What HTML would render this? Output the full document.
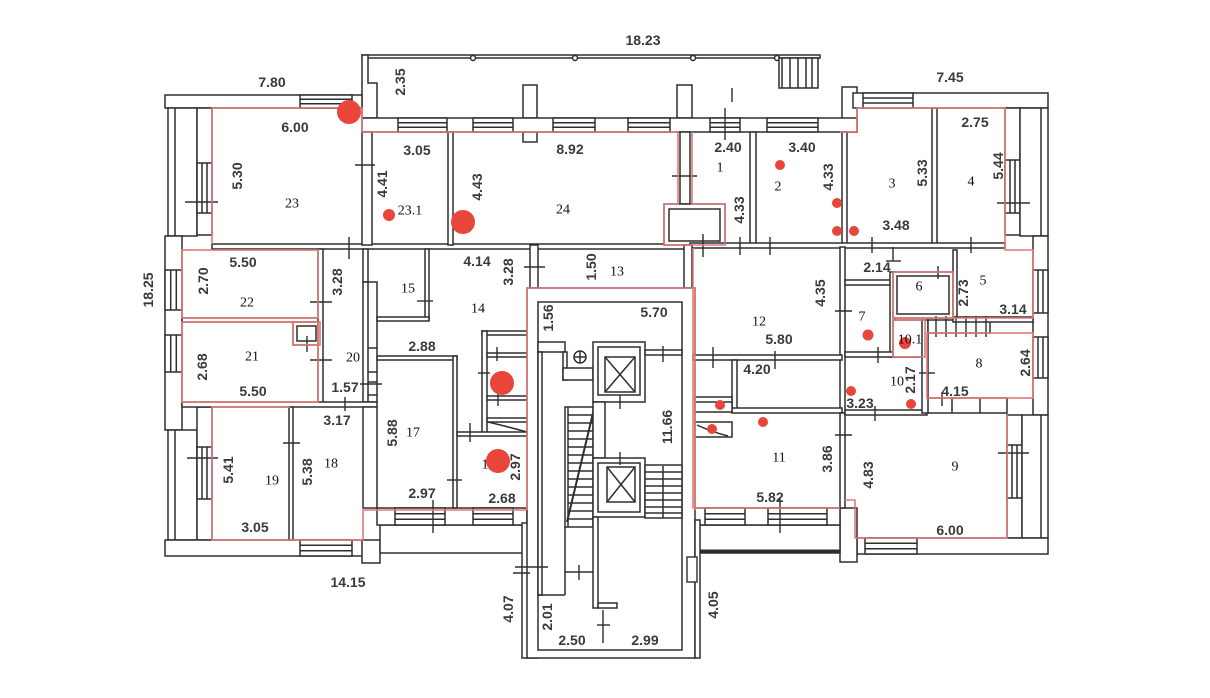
<!DOCTYPE html>
<html><head><meta charset="utf-8"><style>
html,body{margin:0;padding:0;background:#fff;}
svg{display:block;}
.d{font-family:"Liberation Sans",sans-serif;font-weight:bold;font-size:14px;fill:#3a3a3a;text-anchor:middle;dominant-baseline:central;}
.n{font-family:"Liberation Serif",serif;font-size:14px;fill:#111;text-anchor:middle;dominant-baseline:central;}
</style></head><body>
<svg width="1210" height="698" viewBox="0 0 1210 698" xmlns="http://www.w3.org/2000/svg">
<rect width="1210" height="698" fill="#fff"/>
<g fill="#fff" stroke="#2e2e2e" stroke-width="1.5">
<!-- porch -->
<rect x="362" y="55" width="458" height="3"/>
<circle cx="473" cy="58" r="2.5"/><circle cx="575" cy="58" r="2.5"/><circle cx="693" cy="58" r="2.5"/><circle cx="777" cy="58" r="2.5"/>
<rect x="779" y="58" width="39" height="30"/>
<line x1="782" y1="58" x2="782" y2="88"/><line x1="790" y1="58" x2="790" y2="88"/><line x1="798" y1="58" x2="798" y2="88"/><line x1="806" y1="58" x2="806" y2="88"/><line x1="812" y1="58" x2="812" y2="88"/>
<polygon points="362,55 368,55 368,83 377,83 377,118 362,118"/>
<rect x="523" y="85" width="14" height="33"/>
<rect x="677" y="85" width="15" height="33"/>
<rect x="842" y="87" width="15" height="45"/>
<rect x="523" y="132" width="14" height="10"/>
<rect x="362" y="118" width="495" height="14"/>
<rect x="398" y="118" width="49" height="14"/><line x1="398" y1="122.7" x2="447" y2="122.7"/><line x1="398" y1="127.3" x2="447" y2="127.3"/>
<rect x="473" y="118" width="40" height="14"/><line x1="473" y1="122.7" x2="513" y2="122.7"/><line x1="473" y1="127.3" x2="513" y2="127.3"/>
<rect x="553" y="118" width="42" height="14"/><line x1="553" y1="122.7" x2="595" y2="122.7"/><line x1="553" y1="127.3" x2="595" y2="127.3"/>
<rect x="628" y="118" width="42" height="14"/><line x1="628" y1="122.7" x2="670" y2="122.7"/><line x1="628" y1="127.3" x2="670" y2="127.3"/>
<rect x="710" y="118" width="30" height="14"/><line x1="710" y1="122.7" x2="740" y2="122.7"/><line x1="710" y1="127.3" x2="740" y2="127.3"/>
<rect x="767" y="118" width="51" height="14"/><line x1="767" y1="122.7" x2="818" y2="122.7"/><line x1="767" y1="127.3" x2="818" y2="127.3"/>

<!-- left wing exterior -->
<rect x="165" y="95" width="197" height="13"/>
<rect x="300" y="95" width="52" height="13"/><line x1="300" y1="99.3" x2="352" y2="99.3"/><line x1="300" y1="103.7" x2="352" y2="103.7"/>
<rect x="168" y="108" width="29" height="128"/><line x1="175" y1="108" x2="175" y2="236"/>
<rect x="197" y="108" width="15" height="127"/>
<rect x="197" y="163" width="15" height="50"/><line x1="202" y1="163" x2="202" y2="213"/><line x1="207" y1="163" x2="207" y2="213"/>
<rect x="165" y="236" width="17" height="194"/>
<rect x="165" y="270" width="17" height="40"/><line x1="170.7" y1="270" x2="170.7" y2="310"/><line x1="176.3" y1="270" x2="176.3" y2="310"/>
<rect x="165" y="335" width="17" height="37"/><line x1="170.7" y1="335" x2="170.7" y2="372"/><line x1="176.3" y1="335" x2="176.3" y2="372"/>
<rect x="168" y="430" width="29" height="110"/><line x1="175" y1="430" x2="175" y2="540"/>
<rect x="197" y="407" width="15" height="133"/>
<rect x="197" y="447" width="15" height="52"/><line x1="202" y1="447" x2="202" y2="499"/><line x1="207" y1="447" x2="207" y2="499"/>
<rect x="165" y="540" width="198" height="16"/>
<rect x="300" y="540" width="52" height="16"/><line x1="300" y1="545.3" x2="352" y2="545.3"/><line x1="300" y1="550.7" x2="352" y2="550.7"/>
<rect x="362" y="540" width="18" height="23"/>
<rect x="380" y="525" width="143" height="28"/>
<rect x="377" y="508" width="150" height="17"/>
<rect x="395" y="508" width="50" height="17"/><line x1="395" y1="513.7" x2="445" y2="513.7"/><line x1="395" y1="519.3" x2="445" y2="519.3"/>
<rect x="473" y="508" width="40" height="17"/><line x1="473" y1="513.7" x2="513" y2="513.7"/><line x1="473" y1="519.3" x2="513" y2="519.3"/>

<!-- row 1 partitions -->
<rect x="212" y="244" width="480" height="5"/>
<rect x="362" y="132" width="10" height="113"/>
<rect x="448" y="132" width="5" height="113"/>
<rect x="680" y="132" width="10" height="72"/>
<rect x="664" y="204" width="61" height="41"/><rect x="669" y="209" width="51" height="32"/>
<rect x="750" y="132" width="6" height="113"/>
<rect x="842" y="132" width="5" height="113"/>
<rect x="932" y="108" width="5" height="137"/>
<rect x="690" y="243" width="315" height="5"/>

<!-- right wing exterior -->
<rect x="853" y="93" width="195" height="15"/>
<rect x="863" y="93" width="50" height="15"/><line x1="863" y1="98" x2="913" y2="98"/><line x1="863" y1="103" x2="913" y2="103"/>
<rect x="1005" y="108" width="15" height="127"/>
<rect x="1005" y="160" width="15" height="53"/><line x1="1010" y1="160" x2="1010" y2="213"/><line x1="1015" y1="160" x2="1015" y2="213"/>
<rect x="1020" y="108" width="28" height="128"/><line x1="1041" y1="108" x2="1041" y2="236"/>
<rect x="1033" y="236" width="15" height="179"/>
<rect x="1033" y="270" width="15" height="43"/><line x1="1038" y1="270" x2="1038" y2="313"/><line x1="1043" y1="270" x2="1043" y2="313"/>
<rect x="1033" y="337" width="15" height="41"/><line x1="1038" y1="337" x2="1038" y2="378"/><line x1="1043" y1="337" x2="1043" y2="378"/>
<rect x="1007" y="415" width="15" height="123"/>
<rect x="1007" y="445" width="15" height="53"/><line x1="1012" y1="445" x2="1012" y2="498"/><line x1="1017" y1="445" x2="1017" y2="498"/>
<rect x="1022" y="415" width="26" height="123"/><line x1="1041" y1="415" x2="1041" y2="538"/>
<rect x="857" y="538" width="191" height="16"/>
<rect x="865" y="538" width="52" height="16"/><line x1="865" y1="543.3" x2="917" y2="543.3"/><line x1="865" y1="548.7" x2="917" y2="548.7"/>
<rect x="840" y="508" width="17" height="54"/>
<rect x="697" y="525" width="143" height="28"/>
<line x1="697" y1="551" x2="840" y2="551" stroke-width="3"/>
<rect x="693" y="508" width="147" height="17"/>
<rect x="705" y="508" width="40" height="17"/><line x1="705" y1="513.7" x2="745" y2="513.7"/><line x1="705" y1="519.3" x2="745" y2="519.3"/>
<rect x="768" y="508" width="59" height="17"/><line x1="768" y1="513.7" x2="827" y2="513.7"/><line x1="768" y1="519.3" x2="827" y2="519.3"/>

<!-- row 2 left -->
<rect x="182" y="318" width="138" height="4"/>
<rect x="293" y="322" width="27" height="23"/><rect x="297" y="326" width="19" height="15"/>
<rect x="318" y="249" width="5" height="154"/>
<rect x="363" y="249" width="5" height="33"/>
<rect x="363" y="282" width="14" height="120"/>
<line x1="368" y1="282" x2="368" y2="402"/>
<line x1="368" y1="348" x2="377" y2="348"/><line x1="368" y1="372" x2="377" y2="372"/><line x1="368" y1="382" x2="377" y2="382"/><line x1="368" y1="395" x2="377" y2="395"/>
<rect x="182" y="402" width="195" height="5"/>
<rect x="425" y="249" width="4" height="71"/>
<rect x="377" y="317" width="52" height="4"/>
<rect x="377" y="356" width="80" height="4"/>
<rect x="453" y="356" width="4" height="152"/>
<rect x="363" y="407" width="14" height="101"/>
<rect x="289" y="407" width="4" height="133"/>
<rect x="482" y="331" width="45" height="4"/>
<rect x="482" y="331" width="5" height="103"/>
<rect x="487" y="353" width="40" height="4"/>
<rect x="487" y="396" width="40" height="4"/>
<rect x="487" y="418" width="40" height="4"/>
<path d="M488,422 Q505,426 527,432" fill="none"/>
<rect x="457" y="432" width="70" height="4"/>
<rect x="530" y="245" width="8" height="43"/>
<rect x="684" y="245" width="8" height="43"/>

<!-- stairwell -->
<rect x="522" y="523" width="16" height="135"/>
<rect x="527" y="288" width="168" height="370"/>
<rect x="695" y="520" width="5" height="138"/>
<rect x="538" y="302" width="144" height="348"/>
<rect x="538" y="342" width="27" height="10"/>
<rect x="563" y="352" width="4" height="28"/>
<rect x="563" y="368" width="30" height="12"/>
<rect x="538" y="352" width="4" height="243"/>
<rect x="565" y="407" width="28" height="120"/>
<line x1="568" y1="407" x2="568" y2="527"/>
<line x1="568" y1="415" x2="593" y2="415"/><line x1="568" y1="423" x2="593" y2="423"/><line x1="568" y1="431" x2="593" y2="431"/><line x1="568" y1="439" x2="593" y2="439"/><line x1="568" y1="447" x2="593" y2="447"/><line x1="568" y1="455" x2="593" y2="455"/><line x1="568" y1="463" x2="593" y2="463"/><line x1="568" y1="471" x2="593" y2="471"/><line x1="568" y1="479" x2="593" y2="479"/><line x1="568" y1="487" x2="593" y2="487"/><line x1="568" y1="495" x2="593" y2="495"/><line x1="568" y1="503" x2="593" y2="503"/><line x1="568" y1="511" x2="593" y2="511"/><line x1="568" y1="519" x2="593" y2="519"/>
<line x1="593" y1="413" x2="567" y2="522" stroke-width="2"/>
<line x1="565" y1="527" x2="565" y2="595"/>
<line x1="538" y1="595" x2="565" y2="595"/>
<line x1="565" y1="572" x2="593" y2="572"/>
<circle cx="580" cy="357" r="6"/><line x1="574" y1="357" x2="586" y2="357"/><line x1="580" y1="351" x2="580" y2="363"/>
<rect x="593" y="342" width="52" height="60"/><rect x="598" y="347" width="42" height="48"/>
<rect x="605" y="357" width="30" height="35"/><line x1="605" y1="357" x2="635" y2="392"/><line x1="635" y1="357" x2="605" y2="392"/>
<rect x="593" y="402" width="12" height="56"/>
<rect x="593" y="458" width="52" height="59"/><rect x="598" y="463" width="42" height="49"/>
<rect x="607" y="467" width="28" height="35"/><line x1="607" y1="467" x2="635" y2="502"/><line x1="635" y1="467" x2="607" y2="502"/>
<rect x="645" y="350" width="37" height="5"/>
<rect x="645" y="465" width="37" height="53"/>
<line x1="645" y1="472" x2="682" y2="472"/><line x1="645" y1="479" x2="682" y2="479"/><line x1="645" y1="486" x2="682" y2="486"/><line x1="645" y1="493" x2="682" y2="493"/><line x1="645" y1="500" x2="682" y2="500"/><line x1="645" y1="507" x2="682" y2="507"/><line x1="645" y1="513" x2="682" y2="513"/>
<line x1="663" y1="466" x2="663" y2="518"/>
<rect x="593" y="517" width="5" height="91"/>
<rect x="598" y="603" width="19" height="5"/>

<!-- right side rooms -->
<rect x="840" y="247" width="5" height="166"/>
<rect x="693" y="355" width="149" height="5"/>
<rect x="732" y="360" width="5" height="52"/>
<rect x="732" y="408" width="110" height="5"/>
<rect x="695" y="397" width="37" height="15"/><line x1="695" y1="402" x2="732" y2="402"/>
<rect x="695" y="422" width="37" height="15"/><path d="M697,425 Q712,432 728,436" fill="none"/>
<rect x="840" y="413" width="5" height="95"/>
<rect x="845" y="410" width="82" height="5"/>
<rect x="927" y="398" width="80" height="15"/><line x1="952" y1="398" x2="952" y2="413"/><line x1="980" y1="398" x2="980" y2="413"/>
<rect x="845" y="280" width="48" height="5"/>
<rect x="890" y="272" width="5" height="85"/>
<rect x="893" y="272" width="60" height="46"/><rect x="897" y="276" width="52" height="38"/>
<rect x="845" y="352" width="80" height="5"/>
<rect x="893" y="320" width="32" height="37"/>
<rect x="922" y="320" width="6" height="93"/>
<rect x="928" y="320" width="62" height="13"/>
<rect x="953" y="317" width="80" height="5"/>
<rect x="953" y="250" width="4" height="67"/>
</g>

<!-- ticks -->
<g stroke="#2e2e2e" stroke-width="1.4" fill="none">
<line x1="732" y1="88" x2="732" y2="102"/><line x1="725" y1="108" x2="725" y2="140"/>
<line x1="355" y1="165" x2="375" y2="165"/><line x1="349" y1="237" x2="349" y2="259"/>
<line x1="310" y1="302" x2="332" y2="302"/><line x1="310" y1="360" x2="332" y2="360"/><line x1="307" y1="336" x2="307" y2="352"/>
<line x1="417" y1="301" x2="433" y2="301"/><line x1="360" y1="384" x2="382" y2="384"/><line x1="345" y1="397" x2="345" y2="411"/>
<line x1="283" y1="443" x2="300" y2="443"/><line x1="447" y1="480" x2="462" y2="480"/><line x1="433" y1="500" x2="433" y2="533"/>
<line x1="513" y1="573" x2="530" y2="573"/><line x1="524" y1="267" x2="545" y2="267"/><line x1="470" y1="423" x2="470" y2="442"/>
<line x1="478" y1="373" x2="490" y2="373"/><line x1="497" y1="347" x2="497" y2="361"/><line x1="498" y1="394" x2="498" y2="406"/>
<line x1="672" y1="176" x2="697" y2="176"/><line x1="703" y1="234" x2="703" y2="257"/><line x1="740" y1="237" x2="740" y2="255"/><line x1="770" y1="237" x2="770" y2="255"/>
<line x1="872" y1="237" x2="872" y2="253"/><line x1="893" y1="247" x2="893" y2="261"/><line x1="971" y1="237" x2="971" y2="253"/>
<line x1="997" y1="203" x2="1030" y2="203"/><line x1="713" y1="347" x2="713" y2="368"/><line x1="775" y1="351" x2="775" y2="369"/>
<line x1="835" y1="311" x2="852" y2="311"/><line x1="886" y1="261" x2="901" y2="261"/><line x1="938" y1="266" x2="938" y2="279"/>
<line x1="878" y1="347" x2="878" y2="363"/><line x1="919" y1="373" x2="935" y2="373"/><line x1="942" y1="392" x2="942" y2="406"/>
<line x1="835" y1="435" x2="852" y2="435"/><line x1="780" y1="498" x2="780" y2="533"/><line x1="875" y1="406" x2="875" y2="421"/>
<line x1="998" y1="453" x2="1029" y2="453"/><line x1="185" y1="202" x2="218" y2="202"/><line x1="187" y1="458" x2="218" y2="458"/>
<line x1="663" y1="346" x2="663" y2="362"/><line x1="620" y1="395" x2="620" y2="409"/><line x1="620" y1="452" x2="620" y2="465"/>
<line x1="579" y1="565" x2="579" y2="580"/><line x1="603" y1="610" x2="603" y2="643"/><line x1="597" y1="625" x2="610" y2="625"/>
<line x1="515" y1="567" x2="548" y2="567"/>
<line x1="936" y1="316" x2="936" y2="337"/><line x1="946" y1="316" x2="946" y2="337"/><line x1="956" y1="316" x2="956" y2="337"/><line x1="966" y1="316" x2="966" y2="337"/><line x1="976" y1="316" x2="976" y2="337"/><line x1="986" y1="316" x2="986" y2="337"/>
<rect x="687" y="557" width="10" height="25" fill="#fff"/>
</g>

<!-- red outlines -->
<g fill="none" stroke="#e07a78" stroke-width="1.6">
<polyline points="212,244 212,108 362,108 362,132 678,132 678,204 664,204 664,245 725,245 725,204 692,204 692,132"/>
<polyline points="840,132 857,132 857,108 1005,108 1005,250 1033,250 1033,318 953,318"/>
<rect x="893" y="272" width="60" height="46"/>
<rect x="893" y="320" width="32" height="37"/>
<rect x="927" y="333" width="106" height="65"/>
<rect x="182" y="250" width="136" height="68"/>
<rect x="182" y="322" width="136" height="80"/>
<rect x="293" y="322" width="27" height="23"/>
<polyline points="290,407 212,407 212,540 363,540 363,510 527,510"/>
<polyline points="527,510 527,288 695,288 695,510"/>
<polyline points="693,248 693,508 840,508"/>
<polyline points="845,500 855,500 855,538 1007,538 1007,415"/>
</g>

<!-- labels -->
<g>
<text class="d" x="643" y="40">18.23</text>
<text class="d" x="272" y="82">7.80</text>
<text class="d" x="950" y="77">7.45</text>
<text class="d" transform="translate(400,82) rotate(-90)">2.35</text>
<text class="d" x="295" y="127">6.00</text>
<text class="d" transform="translate(237,176) rotate(-90)">5.30</text>
<text class="d" x="417" y="150">3.05</text>
<text class="d" transform="translate(382,184) rotate(-90)">4.41</text>
<text class="d" transform="translate(477,187) rotate(-90)">4.43</text>
<text class="d" x="570" y="149">8.92</text>
<text class="d" x="728" y="147">2.40</text>
<text class="d" x="802" y="147">3.40</text>
<text class="d" transform="translate(828,177) rotate(-90)">4.33</text>
<text class="d" transform="translate(739,210) rotate(-90)">4.33</text>
<text class="d" x="975" y="122">2.75</text>
<text class="d" transform="translate(922,173) rotate(-90)">5.33</text>
<text class="d" transform="translate(998,166) rotate(-90)">5.44</text>
<text class="d" x="896" y="225">3.48</text>
<text class="d" x="243" y="262">5.50</text>
<text class="d" transform="translate(203,281) rotate(-90)">2.70</text>
<text class="d" transform="translate(337,282) rotate(-90)">3.28</text>
<text class="d" x="477" y="261">4.14</text>
<text class="d" transform="translate(508,272) rotate(-90)">3.28</text>
<text class="d" x="422" y="346">2.88</text>
<text class="d" transform="translate(202,367) rotate(-90)">2.68</text>
<text class="d" x="253" y="391">5.50</text>
<text class="d" x="345" y="387">1.57</text>
<text class="d" transform="translate(148,290) rotate(-90)">18.25</text>
<text class="d" transform="translate(591,267) rotate(-90)">1.50</text>
<text class="d" x="337" y="420">3.17</text>
<text class="d" transform="translate(392,433) rotate(-90)">5.88</text>
<text class="d" transform="translate(228,470) rotate(-90)">5.41</text>
<text class="d" transform="translate(307,472) rotate(-90)">5.38</text>
<text class="d" x="422" y="493">2.97</text>
<text class="d" x="502" y="498">2.68</text>
<text class="d" transform="translate(515,467) rotate(-90)">2.97</text>
<text class="d" x="255" y="527">3.05</text>
<text class="d" x="348" y="582">14.15</text>
<text class="d" x="654" y="312">5.70</text>
<text class="d" transform="translate(548,318) rotate(-90)">1.56</text>
<text class="d" transform="translate(667,427) rotate(-90)">11.66</text>
<text class="d" transform="translate(547,617) rotate(-90)">2.01</text>
<text class="d" x="572" y="640">2.50</text>
<text class="d" x="645" y="640">2.99</text>
<text class="d" transform="translate(508,609) rotate(-90)">4.07</text>
<text class="d" transform="translate(713,605) rotate(-90)">4.05</text>
<text class="d" x="877" y="267">2.14</text>
<text class="d" transform="translate(963,293) rotate(-90)">2.73</text>
<text class="d" x="1013" y="309">3.14</text>
<text class="d" transform="translate(820,293) rotate(-90)">4.35</text>
<text class="d" x="779" y="339">5.80</text>
<text class="d" x="757" y="369">4.20</text>
<text class="d" transform="translate(1025,363) rotate(-90)">2.64</text>
<text class="d" transform="translate(910,380) rotate(-90)">2.17</text>
<text class="d" x="955" y="391">4.15</text>
<text class="d" x="860" y="403">3.23</text>
<text class="d" transform="translate(827,459) rotate(-90)">3.86</text>
<text class="d" transform="translate(868,475) rotate(-90)">4.83</text>
<text class="d" x="770" y="497">5.82</text>
<text class="d" x="950" y="530">6.00</text>

<text class="n" x="292" y="204">23</text>
<text class="n" x="563" y="210">24</text>
<text class="n" x="720" y="168">1</text>
<text class="n" x="778" y="187">2</text>
<text class="n" x="892" y="184">3</text>
<text class="n" x="971" y="182">4</text>
<text class="n" x="247" y="303">22</text>
<text class="n" x="408" y="289">15</text>
<text class="n" x="478" y="309">14</text>
<text class="n" x="617" y="272">13</text>
<text class="n" x="252" y="357">21</text>
<text class="n" x="353" y="358">20</text>
<text class="n" x="413" y="433">17</text>
<text class="n" x="331" y="464">18</text>
<text class="n" x="272" y="481">19</text>
<text class="n" x="485" y="465">1</text>
<text class="n" x="919" y="287">6</text>
<text class="n" x="983" y="281">5</text>
<text class="n" x="759" y="322">12</text>
<text class="n" x="862" y="317">7</text>
<text class="n" x="979" y="364">8</text>
<text class="n" x="897" y="382">10</text>
<text class="n" x="779" y="458">11</text>
<text class="n" x="955" y="467">9</text>
</g>

<!-- red dots -->
<g fill="#e8453b">
<circle cx="349" cy="112" r="12"/>
<circle cx="389" cy="215" r="6"/>
<circle cx="463" cy="222" r="12"/>
<circle cx="502" cy="383" r="12"/>
<circle cx="498" cy="461" r="12"/>
<circle cx="780" cy="165" r="5"/>
<circle cx="837" cy="203" r="5"/>
<circle cx="837" cy="231" r="5"/>
<circle cx="854" cy="231" r="5"/>
<circle cx="868" cy="335" r="5.5"/>
<circle cx="905" cy="343" r="6"/>
<circle cx="851" cy="391" r="5"/>
<circle cx="911" cy="404" r="5"/>
<circle cx="720" cy="405" r="5"/>
<circle cx="712" cy="429" r="5"/>
<circle cx="763" cy="422" r="5"/>
</g>
<text class="n" x="910" y="340">10.1</text>
<text class="n" x="410" y="211">23.1</text>
</svg>
</body></html>
